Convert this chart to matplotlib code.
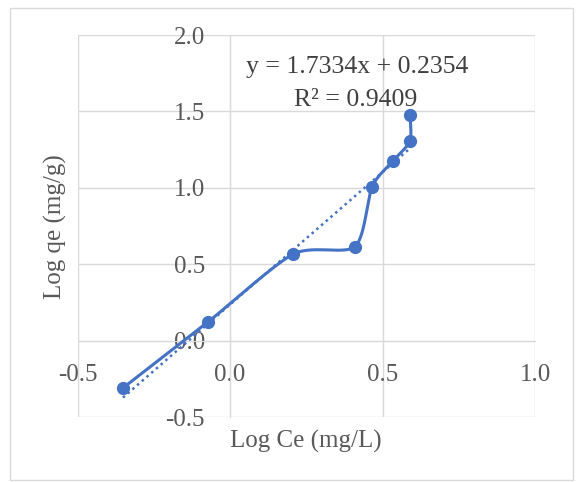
import numpy as np
import matplotlib
matplotlib.use("Agg")
import matplotlib.pyplot as plt
from matplotlib.patches import Rectangle

# Data
log_ce = [-0.351, -0.071, 0.208, 0.410, 0.466, 0.534, 0.590, 0.590]
log_qe = [-0.310, 0.124, 0.567, 0.615, 1.008, 1.175, 1.306, 1.476]
slope = 1.7334
intercept = 0.2354
r2 = 0.9409
x_ticks = [-0.5, 0.0, 0.5, 1.0]
y_ticks = [-0.5, 0.0, 0.5, 1.0, 1.5, 2.0]

W, H = 577, 482
fig = plt.figure(figsize=(W / 100, H / 100), dpi=100)
fig.patch.set_facecolor("white")

serif = ["Liberation Serif", "DejaVu Serif"]
tcol = "#595959"
blue = "#4472C4"
grid = "#d9d9d9"

# outer chart border
fig.patches.append(Rectangle((10 / W, 1 - 480 / H), (573 - 10) / W, (480 - 8) / H,
                             transform=fig.transFigure, fill=False,
                             edgecolor="#d9d9d9", linewidth=1.0))

left, right, top, bottom = 77.5, 535, 35, 417
ax = fig.add_axes([left / W, 1 - bottom / H, (right - left) / W, (bottom - top) / H])
ax.set_xlim(-0.5, 1.0)
ax.set_ylim(-0.5, 2.0)
ax.set_xticks(x_ticks)
ax.set_yticks(y_ticks)
ax.grid(True, color=grid, linewidth=1.0)
ax.set_axisbelow(True)
for s in ["top", "right"]:
    ax.spines[s].set_visible(False)
ax.spines["left"].set_position(("data", 0))
ax.spines["bottom"].set_position(("data", 0))
ax.spines["left"].set_color(grid)
ax.spines["bottom"].set_color(grid)
ax.tick_params(length=0)
ax.tick_params(axis="y", pad=25 * 0.72)
ax.tick_params(axis="x", pad=23 * 0.72)
ax.set_xticklabels([f"{v:.1f}" for v in x_ticks], family=serif, fontsize=18, color=tcol)
ax.set_yticklabels([f"{v:.1f}" for v in y_ticks], family=serif, fontsize=18, color=tcol)

# Smoothed line (Bezier smoothing like Excel)
x = np.array(log_ce)
y = np.array(log_qe)
n = len(x)
xs, ys = [], []
t = np.linspace(0, 1, 30)
k = 1.0 / 8.0
for i in range(n - 1):
    p0 = np.array([x[max(i - 1, 0)], y[max(i - 1, 0)]])
    p1 = np.array([x[i], y[i]])
    p2 = np.array([x[i + 1], y[i + 1]])
    p3 = np.array([x[min(i + 2, n - 1)], y[min(i + 2, n - 1)]])
    c1 = p1 + (p2 - p0) * k
    c2 = p2 - (p3 - p1) * k
    for tt in t:
        b = ((1 - tt) ** 3) * p1 + 3 * ((1 - tt) ** 2) * tt * c1 + 3 * (1 - tt) * tt ** 2 * c2 + tt ** 3 * p2
        xs.append(b[0]); ys.append(b[1])
ax.plot(xs, ys, color=blue, linewidth=2.2, zorder=3, solid_capstyle="round")
ax.plot(x, y, linestyle="none", marker="o", markersize=8.5, color=blue, zorder=4)

# Trendline
tx = np.array([x.min(), x.max()])
ax.plot(tx, slope * tx + intercept, color=blue, linestyle=(0, (1, 1.5)), linewidth=1.8, zorder=2.8)

# Equation
fig.text(357 / W, 1 - 67 / H, f"y = {slope:.4f}x + {intercept:.4f}", ha="center", va="center",
         family=serif, fontsize=18.5, color="#404040")
fig.text(356 / W, 1 - 100 / H, f"R² = {r2:.4f}", ha="center", va="center",
         family=serif, fontsize=18.5, color="#404040")

# Axis titles
fig.text(306 / W, 1 - 441 / H, "Log Ce (mg/L)", ha="center", va="center",
         family=serif, fontsize=18, color=tcol)
fig.text(55 / W, 1 - 227 / H, "Log qe (mg/g)", ha="center", va="center", rotation=90,
         family=serif, fontsize=18, color=tcol)

fig.savefig("out.png", dpi=100)
